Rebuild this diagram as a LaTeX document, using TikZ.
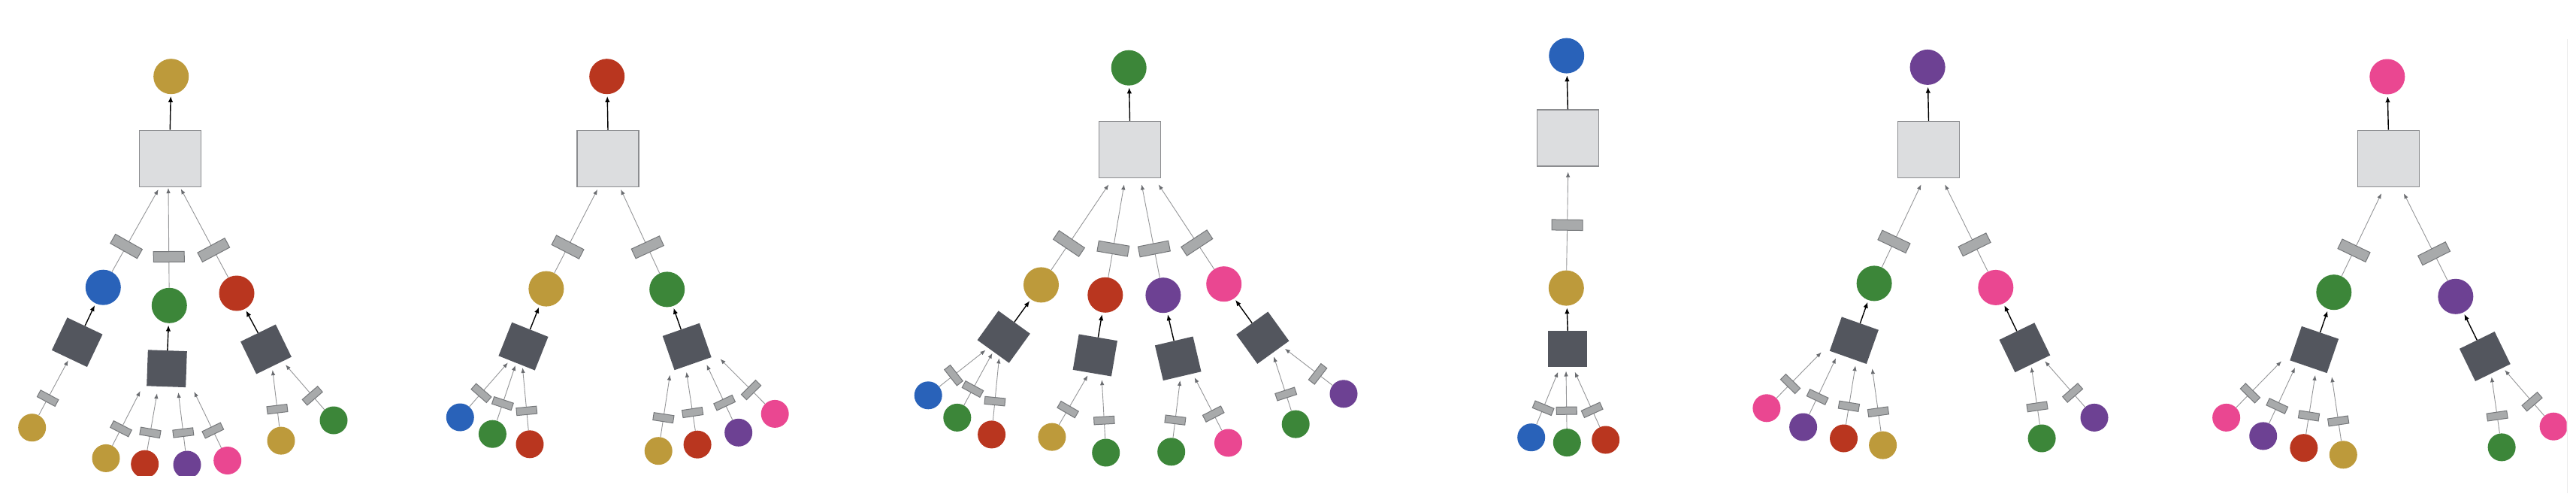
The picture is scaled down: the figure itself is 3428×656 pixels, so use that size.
\documentclass[tikz,border=0pt]{standalone}
\usetikzlibrary{arrows.meta}
\definecolor{cgold}{HTML}{BD9A3B}
\definecolor{cblue}{HTML}{2962B9}
\definecolor{cgreen}{HTML}{3C8639}
\definecolor{cred}{HTML}{B9361F}
\definecolor{cpurple}{HTML}{6D4193}
\definecolor{cpink}{HTML}{EA4791}
\definecolor{boxl}{HTML}{DCDDDF}
\definecolor{boxd}{HTML}{8C8D90}
\definecolor{dark}{HTML}{53565E}
\definecolor{rectf}{HTML}{A8AAAB}
\definecolor{rectd}{HTML}{76787B}
\definecolor{lineg}{HTML}{959698}
\definecolor{tipg}{HTML}{6A6C70}
\begin{document}
\begin{tikzpicture}[x=1pt,y=-1pt,
  big/.style={circle,inner sep=0pt,minimum size=47pt,fill=#1},
  leaf/.style={circle,inner sep=0pt,minimum size=37pt,fill=#1},
  lbox/.style={rectangle,inner sep=0pt,minimum width=82pt,minimum height=75pt,fill=boxl,draw=boxd,line width=1.2pt},
  dbox/.style={rectangle,inner sep=0pt,minimum width=52pt,minimum height=48pt,fill=dark,rotate=#1},
  urect/.style={rectangle,inner sep=0pt,minimum width=14pt,minimum height=41pt,fill=rectf,draw=rectd,line width=1pt,sloped,pos=0.31},
  lrect/.style={rectangle,inner sep=0pt,minimum width=10pt,minimum height=27pt,fill=rectf,draw=rectd,line width=1pt,sloped,pos=0.31},
  garrow/.style={draw=lineg,line width=0.9pt,-{Latex[length=7pt,width=5.5pt,color=tipg]}},
  barrow/.style={draw=black,line width=1.4pt,-{Latex[length=8pt,width=6.5pt]},shorten >=2.5pt},
]
\fill[white] (0,0) rectangle (3428,656);
\useasboundingbox (0,0) rectangle (3428,656);
\draw[black!8,line width=1pt] (3416,52) -- (3416,656);

% ================= Panel 1 =================
\node[big=cgold] (p1r) at (227.7,101.7) {};
\node[lbox] (p1b) at (226.3,210.8) {};
\node[big=cblue] (p1m1) at (137.3,382.2) {};
\node[big=cgreen] (p1m2) at (225.3,406.3) {};
\node[big=cred] (p1m3) at (315,390) {};
\node[dbox=-25.4] (p1d1) at (102.7,455.2) {};
\node[dbox=-2] (p1d2) at (222,490.2) {};
\node[dbox=26] (p1d3) at (354,464.5) {};
\node[leaf=cgold] (p1l1) at (42.7,568.7) {};
\node[leaf=cgold] (p1l2) at (141,609.4) {};
\begin{scope}
\clip (160,560) rectangle (280,632);
\node[leaf=cred] (p1l3) at (192.7,617.2) {};
\node[leaf=cpurple] (p1l4) at (249,618) {};
\end{scope}
\node[leaf=cpink] (p1l5) at (302.7,612.5) {};
\node[leaf=cgold] (p1l6) at (374,586.1) {};
\node[leaf=cgreen] (p1l7) at (444,559) {};
\coordinate (p1u1) at (210.7,252);
\coordinate (p1u2) at (224,250);
\coordinate (p1u3) at (240.7,251.2);
\coordinate (p1t1) at (90.7,479.3);
\coordinate (p1t2) at (186.7,520.1);
\coordinate (p1t3) at (209,523.2);
\coordinate (p1t4) at (237.3,522);
\coordinate (p1t5) at (258.3,520.9);
\coordinate (p1t6) at (362.7,492.1);
\coordinate (p1t7) at (380,485.1);
\draw[barrow] (p1b.north) -- (p1r);
\draw[garrow] (p1m1) -- node[urect]{} (p1u1);
\draw[garrow] (p1m2) -- node[urect]{} (p1u2);
\draw[garrow] (p1m3) -- node[urect]{} (p1u3);
\draw[barrow] (p1d1.north) -- (p1m1);
\draw[barrow] (p1d2.north) -- (p1m2);
\draw[barrow] (p1d3.north) -- (p1m3);
\draw[garrow] (p1l1) -- node[lrect]{} (p1t1);
\draw[garrow] (p1l2) -- node[lrect]{} (p1t2);
\draw[garrow] (p1l3) -- node[lrect]{} (p1t3);
\draw[garrow] (p1l4) -- node[lrect]{} (p1t4);
\draw[garrow] (p1l5) -- node[lrect]{} (p1t5);
\draw[garrow] (p1l6) -- node[lrect]{} (p1t6);
\draw[garrow] (p1l7) -- node[lrect]{} (p1t7);

% ================= Panel 2 =================
\node[big=cred] (p2r) at (807.7,101.7) {};
\node[lbox] (p2b) at (809,211) {};
\node[big=cgold] (p2m1) at (726.9,384.1) {};
\node[big=cgreen] (p2m2) at (887.7,384.9) {};
\node[dbox=-21.7] (p2d1) at (696.5,460.6) {};
\node[dbox=19.2] (p2d2) at (914.2,461) {};
\node[leaf=cblue] (p2l1) at (612.3,555) {};
\node[leaf=cgreen] (p2l2) at (655.4,577.2) {};
\node[leaf=cred] (p2l3) at (705,590.8) {};
\node[leaf=cgold] (p2l4) at (876.2,599.7) {};
\node[leaf=cred] (p2l5) at (928.1,591.2) {};
\node[leaf=cpurple] (p2l6) at (982.7,575.3) {};
\node[leaf=cpink] (p2l7) at (1031.2,550.4) {};
\coordinate (p2u1) at (795,252);
\coordinate (p2u2) at (826.2,252);
\coordinate (p2t1) at (675.8,482.4);
\coordinate (p2t2) at (685.8,485.9);
\coordinate (p2t3) at (695.4,489);
\coordinate (p2t4) at (891.5,498.7);
\coordinate (p2t5) at (913.5,494.8);
\coordinate (p2t6) at (940.4,485.1);
\coordinate (p2t7) at (958.5,477.4);
\draw[barrow] (p2b.north) -- (p2r);
\draw[garrow] (p2m1) -- node[urect]{} (p2u1);
\draw[garrow] (p2m2) -- node[urect]{} (p2u2);
\draw[barrow] (p2d1.north) -- (p2m1);
\draw[barrow] (p2d2.north) -- (p2m2);
\draw[garrow] (p2l1) -- node[lrect]{} (p2t1);
\draw[garrow] (p2l2) -- node[lrect]{} (p2t2);
\draw[garrow] (p2l3) -- node[lrect]{} (p2t3);
\draw[garrow] (p2l4) -- node[lrect]{} (p2t4);
\draw[garrow] (p2l5) -- node[lrect]{} (p2t5);
\draw[garrow] (p2l6) -- node[lrect]{} (p2t6);
\draw[garrow] (p2l7) -- node[lrect]{} (p2t7);

% ================= Panel 3 =================
\node[big=cgreen] (p3r) at (1502.2,90.2) {};
\node[lbox] (p3b) at (1503.5,199) {};
\node[big=cgold] (p3m1) at (1385.5,378.9) {};
\node[big=cred] (p3m2) at (1470.8,392.3) {};
\node[big=cpurple] (p3m3) at (1547.9,392.7) {};
\node[big=cpink] (p3m4) at (1628.7,377.7) {};
\node[dbox=-35.8] (p3d1) at (1335.7,448) {};
\node[dbox=-9.6] (p3d2) at (1457.3,472.5) {};
\node[dbox=13.2] (p3d3) at (1567.7,476.8) {};
\node[dbox=35.8] (p3d4) at (1680.3,449.2) {};
\node[leaf=cblue] (p3l1) at (1235.2,525.8) {};
\node[leaf=cgreen] (p3l2) at (1273.8,555.4) {};
\node[leaf=cred] (p3l3) at (1319.6,577.9) {};
\node[leaf=cgold] (p3l4) at (1399.9,581.1) {};
\node[leaf=cgreen] (p3l5) at (1471.7,602) {};
\node[leaf=cgreen] (p3l6) at (1558.7,600.8) {};
\node[leaf=cpink] (p3l7) at (1634.5,589) {};
\node[leaf=cgreen] (p3l8) at (1724.2,564.1) {};
\node[leaf=cpurple] (p3l9) at (1788,523.8) {};
\coordinate (p3u1) at (1475.3,245.4);
\coordinate (p3u2) at (1495.9,245.4);
\coordinate (p3u3) at (1519.2,245.4);
\coordinate (p3u4) at (1541.7,245.4);
\coordinate (p3t1) at (1311.5,465.7);
\coordinate (p3t2) at (1320.5,469.7);
\coordinate (p3t3) at (1329.5,476.4);
\coordinate (p3t4) at (1447.4,499.3);
\coordinate (p3t5) at (1466.3,505.2);
\coordinate (p3t6) at (1570.4,506);
\coordinate (p3t7) at (1589.7,502.1);
\coordinate (p3t8) at (1695.1,474.4);
\coordinate (p3t9) at (1709.9,463.8);
\draw[barrow] (p3b.north) -- (p3r);
\draw[garrow] (p3m1) -- node[urect]{} (p3u1);
\draw[garrow] (p3m2) -- node[urect]{} (p3u2);
\draw[garrow] (p3m3) -- node[urect]{} (p3u3);
\draw[garrow] (p3m4) -- node[urect]{} (p3u4);
\draw[barrow] (p3d1.north) -- (p3m1);
\draw[barrow] (p3d2.north) -- (p3m2);
\draw[barrow] (p3d3.north) -- (p3m3);
\draw[barrow] (p3d4.north) -- (p3m4);
\draw[garrow] (p3l1) -- node[lrect]{} (p3t1);
\draw[garrow] (p3l2) -- node[lrect]{} (p3t2);
\draw[garrow] (p3l3) -- node[lrect]{} (p3t3);
\draw[garrow] (p3l4) -- node[lrect]{} (p3t4);
\draw[garrow] (p3l5) -- node[lrect]{} (p3t5);
\draw[garrow] (p3l6) -- node[lrect]{} (p3t6);
\draw[garrow] (p3l7) -- node[lrect]{} (p3t7);
\draw[garrow] (p3l8) -- node[lrect]{} (p3t8);
\draw[garrow] (p3l9) -- node[lrect]{} (p3t9);

% ================= Panel 4 =================
\node[big=cblue] (p4r) at (2084.7,74.1) {};
\node[lbox] (p4b) at (2086.3,183.5) {};
\node[big=cgold] (p4m1) at (2084.3,383.1) {};
\node[dbox=0] (p4d1) at (2086.2,464.2) {};
\node[leaf=cblue] (p4l1) at (2037.7,581.7) {};
\node[leaf=cgreen] (p4l2) at (2085.3,588.6) {};
\node[leaf=cred] (p4l3) at (2136.7,585) {};
\coordinate (p4u1) at (2086.7,228.6);
\coordinate (p4t1) at (2073.3,494.7);
\coordinate (p4t2) at (2084,493.5);
\coordinate (p4t3) at (2095.7,494.7);
\draw[barrow] (p4b.north) -- (p4r);
\draw[garrow] (p4m1) -- node[urect,pos=0.46]{} (p4u1);
\draw[barrow] (p4d1.north) -- (p4m1);
\draw[garrow] (p4l1) -- node[lrect]{} (p4t1);
\draw[garrow] (p4l2) -- node[lrect]{} (p4t2);
\draw[garrow] (p4l3) -- node[lrect]{} (p4t3);

% ================= Panel 5 =================
\node[big=cpurple] (p5r) at (2565.1,89.4) {};
\node[lbox] (p5b) at (2566.5,199) {};
\node[big=cgreen] (p5m1) at (2494.1,376.9) {};
\node[big=cpink] (p5m2) at (2655.8,382.4) {};
\node[dbox=-19.5] (p5d1) at (2467.3,452.7) {};
\node[dbox=25.8] (p5d2) at (2694.4,462.2) {};
\node[leaf=cpink] (p5l1) at (2350.9,542.8) {};
\node[leaf=cpurple] (p5l2) at (2399.6,568) {};
\node[leaf=cred] (p5l3) at (2453.5,583) {};
\node[leaf=cgold] (p5l4) at (2505.6,592.1) {};
\node[leaf=cgreen] (p5l5) at (2717.1,583) {};
\node[leaf=cpurple] (p5l6) at (2787,555.4) {};
\coordinate (p5u1) at (2556.5,245.4);
\coordinate (p5u2) at (2588.1,245.4);
\coordinate (p5t1) at (2423.8,468.5);
\coordinate (p5t2) at (2443.1,476.4);
\coordinate (p5t3) at (2469.1,486.3);
\coordinate (p5t4) at (2491.4,490.2);
\coordinate (p5t5) at (2703.3,488.3);
\coordinate (p5t6) at (2721.2,480.4);
\draw[barrow] (p5b.north) -- (p5r);
\draw[garrow] (p5m1) -- node[urect]{} (p5u1);
\draw[garrow] (p5m2) -- node[urect]{} (p5u2);
\draw[barrow] (p5d1.north) -- (p5m1);
\draw[barrow] (p5d2.north) -- (p5m2);
\draw[garrow] (p5l1) -- node[lrect]{} (p5t1);
\draw[garrow] (p5l2) -- node[lrect]{} (p5t2);
\draw[garrow] (p5l3) -- node[lrect]{} (p5t3);
\draw[garrow] (p5l4) -- node[lrect]{} (p5t4);
\draw[garrow] (p5l5) -- node[lrect]{} (p5t5);
\draw[garrow] (p5l6) -- node[lrect]{} (p5t6);

% ================= Panel 6 =================
\node[big=cpink] (p6r) at (3176.8,102) {};
\node[lbox] (p6b) at (3178.3,210.8) {};
\node[big=cgreen] (p6m1) at (3105.8,388.7) {};
\node[big=cpurple] (p6m2) at (3267.8,394.3) {};
\node[dbox=-18.9] (p6d1) at (3079.7,465) {};
\node[dbox=26] (p6d2) at (3306.8,474) {};
\node[leaf=cpink] (p6l1) at (2962.6,555.4) {};
\node[leaf=cpurple] (p6l2) at (3011.7,579.9) {};
\node[leaf=cred] (p6l3) at (3065.8,595.7) {};
\node[leaf=cgold] (p6l4) at (3118.3,604.8) {};
\node[leaf=cgreen] (p6l5) at (3329.1,594.9) {};
\begin{scope}
\clip (3360,520) rectangle (3415.5,620);
\node[leaf=cpink] (p6l6) at (3398.1,567.2) {};
\end{scope}
\coordinate (p6u1) at (3169,257.2);
\coordinate (p6u2) at (3198.8,257.2);
\coordinate (p6t1) at (3036,480.4);
\coordinate (p6t2) at (3054,489);
\coordinate (p6t3) at (3081,498.9);
\coordinate (p6t4) at (3103,501.3);
\coordinate (p6t5) at (3315.6,501.3);
\coordinate (p6t6) at (3333.2,492.2);
\draw[barrow] (p6b.north) -- (p6r);
\draw[garrow] (p6m1) -- node[urect]{} (p6u1);
\draw[garrow] (p6m2) -- node[urect]{} (p6u2);
\draw[barrow] (p6d1.north) -- (p6m1);
\draw[barrow] (p6d2.north) -- (p6m2);
\draw[garrow] (p6l1) -- node[lrect]{} (p6t1);
\draw[garrow] (p6l2) -- node[lrect]{} (p6t2);
\draw[garrow] (p6l3) -- node[lrect]{} (p6t3);
\draw[garrow] (p6l4) -- node[lrect]{} (p6t4);
\draw[garrow] (p6l5) -- node[lrect]{} (p6t5);
\draw[garrow] (p6l6) -- node[lrect]{} (p6t6);
\end{tikzpicture}
\end{document}
